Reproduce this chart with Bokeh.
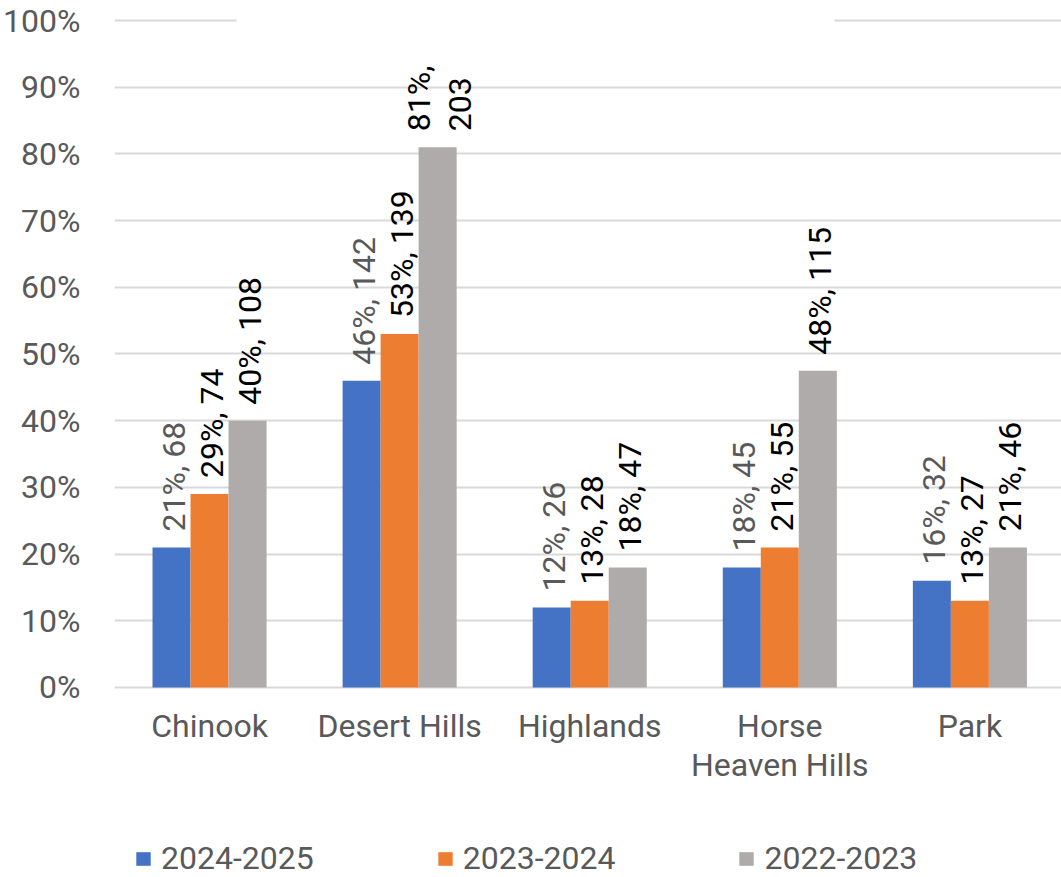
import math
from bokeh.plotting import figure
from bokeh.models import (ColumnDataSource, Legend, LegendItem, BoxAnnotation,
                          FixedTicker, Range1d)
from bokeh.core.properties import value
from bokeh.embed import file_html
from bokeh.resources import INLINE

categories = ["Chinook", "Desert Hills", "Highlands", "Horse Heaven Hills", "Park"]
category_labels = ["Chinook", "Desert Hills", "Highlands", "Horse\nHeaven Hills", "Park"]
series_names = ["2024-2025", "2023-2024", "2022-2023"]
pct_2024_2025 = [21, 46, 12, 18, 16]
pct_2023_2024 = [29, 53, 13, 21, 13]
pct_2022_2023 = [40, 81, 18, 47.5, 21]
lbl_2024_2025 = ["21%, 68", "46%, 142", "12%, 26", "18%, 45", "16%, 32"]
lbl_2023_2024 = ["29%, 74", "53%, 139", "13%, 28", "21%, 55", "13%, 27"]
lbl_2022_2023 = ["40%, 108", "81%,\n203", "18%, 47", "48%, 115", "21%, 46"]
y_ticks = list(range(0, 101, 10))

colors = ["#4472C4", "#ED7D31", "#AFABAB"]
label_colors = ["#595959", "#000000", "#000000"]
offsets = [-0.2, 0.0, 0.2]
FONT = "Roboto"
FS = "32px"

# category slots: centre of slot i is at i + 0.5 on a numeric scale
centres = [i + 0.5 for i in range(len(categories))]

# frame extends below 0% so that category labels and legend live inside it
p = figure(x_range=Range1d(0, 4.982), y_range=Range1d(-28.49, 100.45),
           width=1061, height=877, output_backend="svg", toolbar_location=None,
           min_border_left=112, min_border_right=0, min_border_top=17, min_border_bottom=0)
p.outline_line_color = None

data = dict(cx=centres, cat_label=category_labels, zero=[0] * len(categories),
            s0=pct_2024_2025, s1=pct_2023_2024, s2=pct_2022_2023,
            l0=lbl_2024_2025, l1=lbl_2023_2024, l2=lbl_2022_2023)
for i in range(3):
    data[f"x{i}"] = [c + offsets[i] for c in centres]
src = ColumnDataSource(data)

renderers = []
for i in range(3):
    r = p.vbar(x=f"x{i}", top=f"s{i}", width=0.2, source=src,
               fill_color=colors[i], line_color=None)
    renderers.append(r)
    p.text(x=f"x{i}", y=f"s{i}", text=f"l{i}", source=src,
           angle=math.pi / 2, text_align="left", text_baseline="middle",
           y_offset=-16, x_offset=2, text_font=value(FONT), text_font_size=FS,
           text_color=label_colors[i], text_line_height=1.07)

# category labels
p.text(x="cx", y="zero", text="cat_label", source=src, text_align="center",
       text_baseline="top", y_offset=20, text_font=value(FONT), text_font_size=FS,
       text_color="#595959", text_line_height=1.02)

# y axis
p.yaxis.ticker = FixedTicker(ticks=y_ticks)
p.yaxis.major_label_overrides = {v: f"{v}%" for v in y_ticks}
p.yaxis.axis_line_color = None
p.yaxis.major_tick_line_color = None
p.yaxis.minor_tick_line_color = None
p.yaxis.major_label_text_font = FONT
p.yaxis.major_label_text_font_size = FS
p.yaxis.major_label_text_color = "#595959"
p.yaxis.major_label_standoff = 28

p.xaxis.visible = False
p.xgrid.grid_line_color = None
p.ygrid.ticker = FixedTicker(ticks=y_ticks)
p.ygrid.grid_line_color = "#D9D9D9"
p.ygrid.grid_line_width = 2

# gap in the top gridline (title area)
p.add_layout(BoxAnnotation(left=122, right=720, left_units="screen", right_units="screen",
                           bottom=99.5, top=100.45, fill_color="white", fill_alpha=1.0,
                           line_color=None, level="overlay"))

legend = Legend(items=[LegendItem(label=series_names[i], renderers=[renderers[i]]) for i in range(3)],
                orientation="horizontal", location=(20, 0),
                label_text_font=FONT, label_text_font_size=FS, label_text_color="#595959",
                glyph_width=18, glyph_height=17, label_standoff=9, spacing=122,
                padding=0, margin=0, border_line_color=None, background_fill_alpha=0)
p.add_layout(legend, "center")

open("out.html", "w").write(file_html(p, INLINE))
